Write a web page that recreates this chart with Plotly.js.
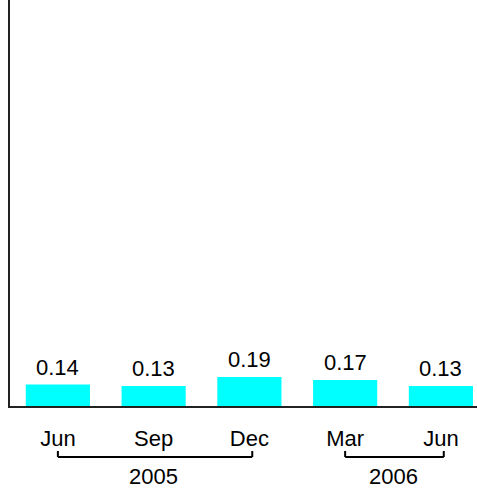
<!DOCTYPE html>
<html>
<head>
<meta charset="utf-8">
<script src="https://cdn.plot.ly/plotly-3.0.1.min.js"></script>
<style>
  html, body { margin: 0; padding: 0; background: #ffffff; }
  #chart { width: 477px; height: 490px; }
</style>
</head>
<body>
<div id="chart"></div>
<script>
// Quarterly values, June 2005 to June 2006
const months = ['Jun', 'Sep', 'Dec', 'Mar', 'Jun'];
const values = [0.14, 0.13, 0.19, 0.17, 0.13];
const years = ['2005', '2006'];
const yearFirst = [0, 3];   // index of first quarter in each year
const yearLast = [2, 4];    // index of last quarter in each year

const idx = months.map((_, i) => i);
const FONT = 'Arial, "Liberation Sans", sans-serif';
const FS = 22;

const bars = {
  type: 'bar',
  x: idx,
  y: values,
  width: 0.67,
  marker: { color: '#00ffff', line: { width: 0 } },
  hoverinfo: 'skip',
  showlegend: false
};

// value labels above each bar
const valueLabels = values.map((v, i) => ({
  x: i, y: v, xref: 'x', yref: 'y',
  text: v.toFixed(2),
  showarrow: false,
  yanchor: 'bottom',
  yshift: 3,
  font: { family: FONT, size: FS, color: '#000000' }
}));

// year labels under the brackets
const yearLabels = years.map((y, k) => ({
  x: (yearFirst[k] + yearLast[k]) / 2, y: 0,
  xref: 'x', yref: 'paper',
  text: y,
  showarrow: false,
  yanchor: 'middle',
  yshift: -70,
  font: { family: FONT, size: FS, color: '#000000' }
}));

// brackets joining the quarters of each year
const brackets = [];
years.forEach((_, k) => {
  const a = yearFirst[k], b = yearLast[k] + 0.03;
  const common = { xref: 'x', yref: 'paper', ysizemode: 'pixel', yanchor: 0,
                   line: { color: '#000000', width: 2 } };
  brackets.push(Object.assign({ type: 'line', x0: a, x1: b, y0: -51, y1: -51 }, common));
  brackets.push(Object.assign({ type: 'line', x0: a, x1: a, y0: -51, y1: -45 }, common));
  brackets.push(Object.assign({ type: 'line', x0: b, x1: b, y0: -51, y1: -45 }, common));
});

const layout = {
  width: 477,
  height: 490,
  margin: { l: 10, r: 0, t: 0, b: 84 },
  paper_bgcolor: '#ffffff',
  plot_bgcolor: '#ffffff',
  font: { family: FONT, size: FS, color: '#000000' },
  xaxis: {
    range: [-0.5, 4.377],
    tickvals: idx,
    ticktext: months,
    ticks: 'outside',
    ticklen: 12,
    tickcolor: 'rgba(0,0,0,0)',
    tickfont: { family: FONT, size: FS, color: '#000000' },
    showgrid: false,
    zeroline: false,
    showline: true,
    linecolor: '#222222',
    linewidth: 2,
    fixedrange: true
  },
  yaxis: {
    range: [0, 2.65],
    showticklabels: false,
    ticks: '',
    showgrid: false,
    zeroline: false,
    showline: true,
    linecolor: '#222222',
    linewidth: 2,
    fixedrange: true
  },
  annotations: valueLabels.concat(yearLabels),
  shapes: brackets
};

Plotly.newPlot('chart', [bars], layout, { displayModeBar: false, staticPlot: true });
</script>
</body>
</html>
